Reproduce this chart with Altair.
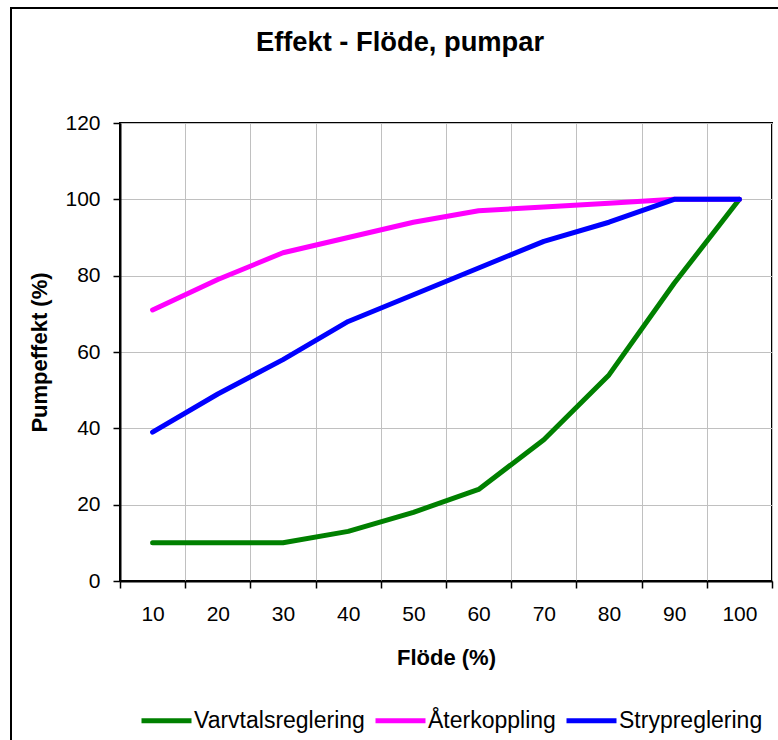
import altair as alt
import pandas as pd

flow = [10, 20, 30, 40, 50, 60, 70, 80, 90, 100]
varvtal = [10, 10, 10, 13, 18, 24, 37, 54, 78, 100]
aterkoppling = [71, 79, 86, 90, 94, 97, 98, 99, 100, 100]
strypreglering = [39, 49, 58, 68, 75, 82, 89, 94, 100, 100]
series_names = ["Varvtalsreglering", "Återkoppling", "Strypreglering"]
series_colors = ["#008000", "#FF00FF", "#0000FF"]
y_ticks = [0, 20, 40, 60, 80, 100, 120]

rows = []
for name, vals in zip(series_names, [varvtal, aterkoppling, strypreglering]):
    for f, v in zip(flow, vals):
        rows.append({"Flöde": f, "Pumpeffekt": v, "Serie": name})
df = pd.DataFrame(rows)

FONT = "Liberation Sans"

lines = alt.Chart(df).mark_line(strokeWidth=5, strokeCap="round", strokeJoin="round").encode(
    x=alt.X("Flöde:O",
            scale=alt.Scale(type="band", paddingInner=0, paddingOuter=0),
            sort=flow,
            axis=alt.Axis(title="Flöde (%)", labelAngle=0, tickBand="extent",
                          labelFontSize=21, labelPadding=15, tickSize=7,
                          titleFontSize=22, titleFontWeight="bold",
                          titleBaseline="alphabetic", titleY=83)),
    y=alt.Y("Pumpeffekt:Q",
            scale=alt.Scale(domain=[0, 120], nice=False),
            axis=alt.Axis(title="Pumpeffekt (%)", values=y_ticks,
                          labelFontSize=21, labelPadding=13, tickSize=7,
                          titleFontSize=22, titleFontWeight="bold",
                          titleBaseline="alphabetic", titleX=-74)),
    color=alt.Color("Serie:N",
                    scale=alt.Scale(domain=series_names, range=series_colors),
                    sort=series_names,
                    legend=alt.Legend(title=None, orient="none", direction="horizontal",
                                      legendX=19, legendY=570,
                                      symbolType="stroke", symbolSize=2500,
                                      symbolStrokeWidth=5, labelFontSize=23,
                                      labelLimit=0,
                                      labelOffset=0, columnPadding=0)),
    order=alt.Order("Flöde:Q"),
)

frame = alt.Chart(alt.Data(values=[{"a": 1}])).mark_rect(
    fill=None, stroke="#000000", strokeWidth=2
).encode(
    x=alt.value(11 - 120), x2=alt.value(900),
    y=alt.value(8 - 123), y2=alt.value(900),
)

chart = alt.layer(frame, lines).properties(
    width=652, height=458,
    title=alt.TitleParams("Effekt - Flöde, pumpar", fontSize=27.3, fontWeight="bold",
                          font=FONT, anchor="middle", dx=-46, offset=0,
                          baseline="alphabetic", dy=71),
    autosize=alt.AutoSizeParams(type="none"),
    padding={"left": 120, "top": 123, "right": 6, "bottom": 159},
).configure(
    font=FONT,
).configure_view(
    stroke="#000000", strokeWidth=2,
).configure_axis(
    labelFont=FONT, titleFont=FONT, labelColor="#000000", titleColor="#000000",
    domainColor="#000000", domainWidth=2, tickColor="#000000", tickWidth=1.5,
    gridColor="#c0c0c0", gridWidth=1, grid=True,
).configure_legend(
    labelFont=FONT, labelColor="#000000",
)

chart.save("out.html", embed_options={"renderer": "svg", "actions": False})
